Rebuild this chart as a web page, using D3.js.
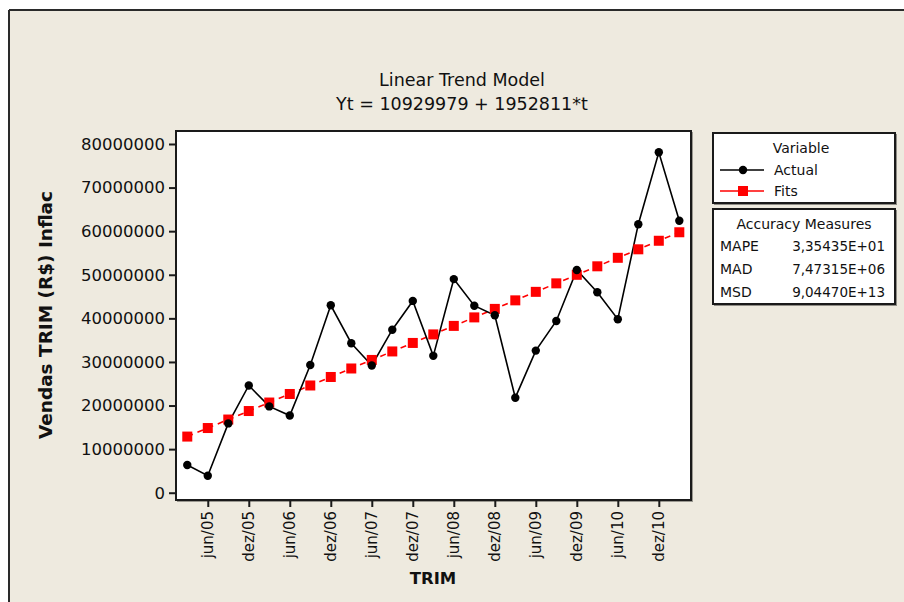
<!DOCTYPE html>
<html>
<head>
<meta charset="utf-8">
<script src="https://cdn.jsdelivr.net/npm/d3@7"></script>
<style>
  html, body { margin: 0; padding: 0; background: #ffffff; }
  svg { display: block; }
  text { font-family: "DejaVu Sans", Verdana, sans-serif; fill: #111; }
</style>
</head>
<body>
<svg id="chart" width="904" height="602"></svg>
<script>
// ---- Data ----
const periods = d3.range(1, 26); // t = 1..25 (mar/05 .. mar/11)
const actual = [6.35e6, 3.9e6, 15.9e6, 24.6e6, 19.8e6, 17.7e6, 29.3e6, 43.0e6, 34.3e6, 29.2e6,
                37.4e6, 44.0e6, 31.4e6, 49.0e6, 42.9e6, 40.7e6, 21.8e6, 32.6e6, 39.4e6, 51.1e6,
                46.0e6, 39.8e6, 61.6e6, 78.1e6, 62.4e6];
const fits = [12.88e6, 14.84e6, 16.79e6, 18.74e6, 20.69e6, 22.65e6, 24.60e6, 26.55e6, 28.50e6, 30.46e6,
              32.41e6, 34.36e6, 36.32e6, 38.27e6, 40.22e6, 42.17e6, 44.13e6, 46.08e6, 48.03e6, 49.99e6,
              51.94e6, 53.89e6, 55.84e6, 57.80e6, 59.75e6];
const tickPeriods = [2, 4, 6, 8, 10, 12, 14, 16, 18, 20, 22, 24];
const tickLabels = ["jun/05","dez/05","jun/06","dez/06","jun/07","dez/07","jun/08","dez/08","jun/09","dez/09","jun/10","dez/10"];
const yTicks = [0, 10000000, 20000000, 30000000, 40000000, 50000000, 60000000, 70000000, 80000000];
const accuracyNames = ["MAPE", "MAD", "MSD"];
const accuracyValues = ["3,35435E+01", "7,47315E+06", "9,04470E+13"];
const titleLines = ["Linear Trend Model", "Yt = 10929979 + 1952811*t"];

// ---- Layout ----
const svg = d3.select("#chart");
const plot = { left: 176, top: 131, right: 691, bottom: 500 };
const bg = "#EEEADF";

// window background and frame
svg.append("rect").attr("x", 0).attr("y", 0).attr("width", 904).attr("height", 602).attr("fill", "#ffffff");
svg.append("rect").attr("x", 9).attr("y", 10).attr("width", 900).attr("height", 600).attr("fill", bg);
svg.append("line").attr("x1", 9).attr("x2", 904).attr("y1", 10).attr("y2", 10).attr("stroke", "#2a2a2a").attr("stroke-width", 2);
svg.append("line").attr("x1", 9).attr("x2", 9).attr("y1", 10).attr("y2", 602).attr("stroke", "#2a2a2a").attr("stroke-width", 2);

const x = d3.scaleLinear().domain([0.45, 25.57]).range([plot.left, plot.right]);
const y = d3.scaleLinear().domain([-1.67e6, 82.98e6]).range([plot.bottom, plot.top]);

// plot area
svg.append("rect").attr("x", plot.left + 1).attr("y", plot.top + 1)
  .attr("width", plot.right - plot.left + 1).attr("height", plot.bottom - plot.top + 1)
  .attr("fill", "#9a9890");
svg.append("rect").attr("x", plot.left).attr("y", plot.top)
  .attr("width", plot.right - plot.left).attr("height", plot.bottom - plot.top)
  .attr("fill", "#ffffff").attr("stroke", "#1a1a1a").attr("stroke-width", 2);

// axes
const yAxis = d3.axisLeft(y).tickValues(yTicks).tickFormat(d3.format("d")).tickSize(7).tickSizeOuter(0).tickPadding(4);
const yg = svg.append("g").attr("transform", `translate(${plot.left},0)`).call(yAxis);
yg.select(".domain").remove();
yg.selectAll(".tick line").attr("stroke", "#1a1a1a").attr("stroke-width", 2);
yg.selectAll(".tick text").attr("font-size", "16.5px").attr("font-family", "DejaVu Sans, sans-serif").attr("fill", "#111");

const xAxis = d3.axisBottom(x).tickValues(tickPeriods).tickFormat((d, i) => tickLabels[i]).tickSize(7).tickSizeOuter(0);
const xg = svg.append("g").attr("transform", `translate(0,${plot.bottom})`).call(xAxis);
xg.select(".domain").remove();
xg.selectAll(".tick line").attr("stroke", "#1a1a1a").attr("stroke-width", 2);
xg.selectAll(".tick text")
  .attr("font-size", "15px").attr("font-family", "DejaVu Sans, sans-serif").attr("fill", "#111")
  .attr("text-anchor", "end").attr("dy", null).attr("y", null)
  .attr("transform", "translate(5,11) rotate(-90)")
  .attr("x", 0);

// axis titles
svg.append("text").attr("x", 433).attr("y", 584).attr("text-anchor", "middle")
  .attr("font-size", "16.5px").attr("font-weight", "bold").text("TRIM");
svg.append("text").attr("transform", "translate(52,315) rotate(-90)").attr("text-anchor", "middle")
  .attr("font-size", "17.5px").attr("font-weight", "bold")
  .attr("textLength", 248).attr("lengthAdjust", "spacingAndGlyphs")
  .text("Vendas TRIM (R$) Inflac");

// chart title
svg.append("text").attr("x", 462).attr("y", 86).attr("text-anchor", "middle").attr("font-size", "17.5px").text(titleLines[0]);
svg.append("text").attr("x", 462).attr("y", 110).attr("text-anchor", "middle").attr("font-size", "17.5px").text(titleLines[1]);

// series
const lineGen = d3.line().x((d, i) => x(periods[i])).y(d => y(d));
svg.append("path").datum(fits).attr("d", lineGen).attr("fill", "none")
  .attr("stroke", "#ff0000").attr("stroke-width", 1.6).attr("stroke-dasharray", "6,5");
svg.append("path").datum(actual).attr("d", lineGen).attr("fill", "none")
  .attr("stroke", "#000000").attr("stroke-width", 1.6);

svg.append("g").selectAll("rect").data(fits).join("rect")
  .attr("x", (d, i) => x(periods[i]) - 5).attr("y", d => y(d) - 5)
  .attr("width", 10).attr("height", 10).attr("fill", "#ff0000");
svg.append("g").selectAll("circle").data(actual).join("circle")
  .attr("cx", (d, i) => x(periods[i])).attr("cy", d => y(d)).attr("r", 4.2).attr("fill", "#000000");

// legend: Variable
function boxWithShadow(x0, y0, w, h) {
  svg.append("rect").attr("x", x0 + 1).attr("y", y0 + 1).attr("width", w + 1).attr("height", h + 1).attr("fill", "#8f8d86");
  svg.append("rect").attr("x", x0).attr("y", y0).attr("width", w).attr("height", h)
    .attr("fill", "#ffffff").attr("stroke", "#1a1a1a").attr("stroke-width", 2);
}
boxWithShadow(713, 133, 182, 70);
svg.append("text").attr("x", 801).attr("y", 153).attr("text-anchor", "middle").attr("font-size", "14px").text("Variable");
const legendItems = [
  { name: "Actual", color: "#000000", shape: "circle", y: 170 },
  { name: "Fits", color: "#ff0000", shape: "square", y: 191 }
];
legendItems.forEach(it => {
  svg.append("line").attr("x1", 720).attr("x2", 764).attr("y1", it.y).attr("y2", it.y)
    .attr("stroke", it.color).attr("stroke-width", 1.6);
  if (it.shape === "circle") {
    svg.append("circle").attr("cx", 743).attr("cy", it.y).attr("r", 4.2).attr("fill", it.color);
  } else {
    svg.append("rect").attr("x", 738).attr("y", it.y - 5).attr("width", 10).attr("height", 10).attr("fill", it.color);
  }
  svg.append("text").attr("x", 774).attr("y", it.y + 5).attr("font-size", "14px").text(it.name);
});

// legend: Accuracy Measures
boxWithShadow(713, 209, 182, 95);
svg.append("text").attr("x", 804).attr("y", 229).attr("text-anchor", "middle").attr("font-size", "14px").text("Accuracy Measures");
accuracyNames.forEach((n, i) => {
  const yy = 251 + i * 23;
  svg.append("text").attr("x", 720).attr("y", yy).attr("font-size", "14px").text(n);
  svg.append("text").attr("x", 885).attr("y", yy).attr("text-anchor", "end").attr("font-size", "13.5px").text(accuracyValues[i]);
});
</script>
</body>
</html>
